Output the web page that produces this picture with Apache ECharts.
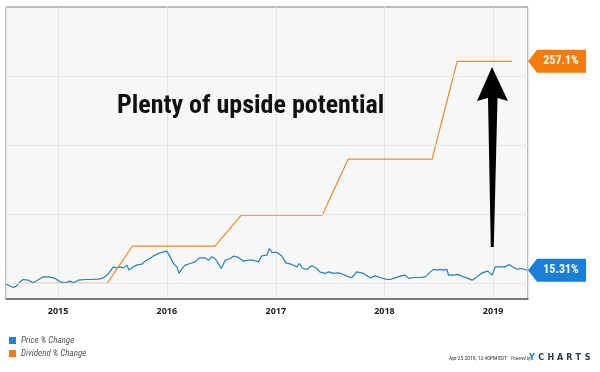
<!DOCTYPE html>
<html>
<head>
<meta charset="utf-8">
<script src="https://cdn.jsdelivr.net/npm/echarts@6/dist/echarts.min.js"></script>
<style>
html,body{margin:0;padding:0;background:#fff;}
#chart{width:600px;height:372px;}
</style>
</head>
<body>
<div id="chart"></div>
<script>
// ---- Data ----
const priceDates = [
'2014-07-10','2014-07-18','2014-08-04','2014-08-15','2014-08-26','2014-09-06','2014-09-23','2014-10-10','2014-10-21','2014-11-02',
'2014-11-13','2014-11-29','2014-12-22','2015-01-08','2015-01-25','2015-02-10','2015-02-21','2015-03-10','2015-04-02','2015-04-24',
'2015-05-16','2015-06-02','2015-06-14','2015-06-25','2015-07-06','2015-07-17','2015-07-28','2015-08-08','2015-08-20','2015-08-27',
'2015-09-06','2015-09-22','2015-10-09','2015-10-20','2015-11-06','2015-11-17','2015-12-04','2015-12-15','2016-01-01','2016-01-12',
'2016-01-23','2016-02-04','2016-02-11','2016-02-21','2016-03-03','2016-03-19','2016-04-05','2016-04-20','2016-05-09','2016-05-20',
'2016-05-31','2016-06-11','2016-06-22','2016-07-02','2016-07-15','2016-08-01','2016-08-12','2016-08-29','2016-09-14','2016-10-01',
'2016-10-18','2016-11-04','2016-11-15','2016-12-02','2016-12-11','2016-12-19','2017-01-05','2017-01-21','2017-02-04','2017-02-24',
'2017-03-13','2017-03-21','2017-04-01','2017-04-15','2017-05-02','2017-05-19','2017-05-30','2017-06-16','2017-06-27','2017-07-14',
'2017-07-31','2017-08-17','2017-09-02','2017-09-14','2017-09-30','2017-10-23','2017-11-14','2017-12-01','2017-12-18','2018-01-04',
'2018-01-20','2018-02-06','2018-02-23','2018-03-12','2018-03-23','2018-04-08','2018-05-01','2018-05-18','2018-06-04','2018-06-15',
'2018-06-26','2018-07-07','2018-07-18','2018-07-30','2018-08-04','2018-08-21','2018-09-07','2018-09-23','2018-10-05','2018-10-22',
'2018-11-07','2018-11-22','2018-12-05','2018-12-14','2018-12-28','2019-01-08','2019-01-25','2019-02-10','2019-02-24','2019-03-10',
'2019-03-22','2019-04-08','2019-04-25'
];
const priceValues = [
0,-2.0,-4.6,-2.8,1.9,4.6,3.8,0.7,3.0,5.8,
7.6,7.6,5.8,1.9,0.7,2.7,0.7,3.8,4.6,4.6,
5.0,6.5,9.6,14.2,19.2,18.0,19.2,18.0,21.2,15.4,
18.5,21.2,22.3,25.8,28.9,31.9,34.7,35.9,37.4,30.8,
23.1,19.2,11.6,17.3,21.2,23.1,25.0,29.6,29.6,26.9,
30.8,28.9,23.1,17.3,26.9,28.9,31.6,30.1,25.8,26.9,
26.9,25.0,31.9,32.7,40.5,35.9,35.9,31.9,23.8,22.0,
19.2,23.1,17.3,16.2,20.4,17.3,13.1,11.6,13.4,11.6,
12.3,10.4,7.6,6.9,13.4,11.6,6.5,8.8,6.9,5.0,
4.6,6.5,8.4,9.6,5.8,6.9,6.9,7.6,13.4,16.2,
15.4,16.2,15.4,16.2,9.6,9.6,10.4,7.6,6.5,3.8,
7.6,11.6,13.4,14.2,9.6,19.2,19.2,19.2,22.0,18.5,
16.5,17.3,15.31
];
const dividendDates = ['2014-09-12','2015-06-15','2015-09-07','2016-06-11','2016-09-07','2017-06-06','2017-09-01','2018-06-10','2018-09-02','2019-03-06'];
const dividendValues = [0,0,43.1,43.1,79.0,79.0,143.8,143.8,257.1,257.1];
const gridValues = [0, 80, 160, 240];
const axisStart = '2014-07-10';
const axisEnd = '2019-04-28';
const seriesNames = ['Price % Change', 'Dividend % Change'];
const titleText = 'Plenty of upside potential';
const stampText = 'Apr 25 2019, 12:40PM EDT';

// ---- Build chart ----
const ts = s => new Date(s + 'T00:00:00Z').getTime();
const BLUE = '#2a7ec2', ORANGE = '#ef8a2c';
const TAG_BLUE = '#1a7fd8', TAG_ORANGE = '#f47c0c';
const YEAR = 365 * 24 * 3600 * 1000;
const NARROW = '"Liberation Sans Narrow", "Roboto Condensed", "Open Sans", sans-serif';
const tagPath = 'path://M0,11.5 L9,0 L58,0 L58,23 L9,23 Z';

const priceData = priceDates.map((d, i) => [ts(d), priceValues[i]]);
const divData = dividendDates.map((d, i) => [ts(d), dividendValues[i]]);
const lastPrice = priceValues[priceValues.length - 1];
const lastDiv = dividendValues[dividendValues.length - 1];

function tag(value, text, color) {
  return {
    symbol: tagPath, symbolSize: [58, 23], symbolOffset: [29, 0], silent: true,
    itemStyle: {color: color},
    label: {show: true, position: 'inside', offset: [4, 0], formatter: text, color: '#fff',
            fontWeight: 'bold', fontSize: 12, fontFamily: NARROW},
    data: [{coord: [ts(axisEnd), value]}]
  };
}

const chart = echarts.init(document.getElementById('chart'), null, {renderer: 'canvas', width: 600, height: 372});
const yLetters = 'YCHARTS'.split('');
const graphics = [
  {type: 'text', left: 117, top: 93, z: 10,
   style: {text: titleText, font: 'bold 26px ' + NARROW, fill: '#111'}},
  {type: 'polygon', z: 10,
   shape: {points: [[492,67],[508,101],[497.5,98],[493.8,247],[490.8,247],[488,98],[477,101]]},
   style: {fill: '#000'}},
  {type: 'text', left: 449, top: 356, style: {text: stampText, font: '5.5px ' + NARROW, fill: '#333'}},
  {type: 'text', left: 511, top: 356.5, style: {text: 'Powered by', font: 'italic 4.5px ' + NARROW, fill: '#444'}}
];
yLetters.forEach((ch, i) => {
  graphics.push({type: 'text', left: 529 + i * 9.3, top: 354,
    style: {text: ch, font: 'bold 8px "DejaVu Sans", sans-serif', fill: i === 0 ? '#1a80d0' : '#2b3a4a'}});
});

chart.setOption({
  backgroundColor: '#fff',
  animation: false,
  grid: {left: 6, right: 72, top: 7, bottom: 73, show: true, backgroundColor: '#f7f7f7',
         borderColor: '#7d7d7d', borderWidth: 1},
  xAxis: {
    type: 'time', min: ts(axisStart), max: ts(axisEnd), minInterval: YEAR, maxInterval: YEAR,
    axisLine: {show: true, onZero: false, lineStyle: {color: '#666', width: 1.5}},
    axisTick: {show: false},
    splitLine: {show: true, lineStyle: {color: '#e6e6e6', width: 1}},
    axisLabel: {formatter: '{yyyy}', color: '#222', fontWeight: 'bold', fontSize: 9, margin: 8,
                fontFamily: '"Open Sans", sans-serif', showMinLabel: false, showMaxLabel: false}
  },
  yAxis: {type: 'value', min: -18, max: 320, show: false},
  legend: {
    data: seriesNames, orient: 'vertical', left: 4, top: 331, itemWidth: 7, itemHeight: 7, itemGap: 4,
    icon: 'rect', selectedMode: false,
    textStyle: {fontSize: 9, fontStyle: 'italic', color: '#555', fontFamily: NARROW}
  },
  graphic: graphics,
  series: [
    {name: 'grid', type: 'line', data: [], z: 1, silent: true,
     markLine: {silent: true, symbol: 'none', label: {show: false},
                lineStyle: {color: '#e6e6e6', type: 'solid', width: 1},
                data: gridValues.map(v => ({yAxis: v}))}},
    {name: seriesNames[0], type: 'line', data: priceData, showSymbol: false, z: 3,
     lineStyle: {color: BLUE, width: 1.2}, itemStyle: {color: '#2a80d0'},
     markPoint: tag(lastPrice, lastPrice.toFixed(2) + '%', TAG_BLUE)},
    {name: seriesNames[1], type: 'line', data: divData, showSymbol: false, z: 4,
     lineStyle: {color: ORANGE, width: 1.2}, itemStyle: {color: '#f07c1c'},
     markPoint: tag(lastDiv, lastDiv.toFixed(1) + '%', TAG_ORANGE)}
  ]
});
</script>
</body>
</html>
